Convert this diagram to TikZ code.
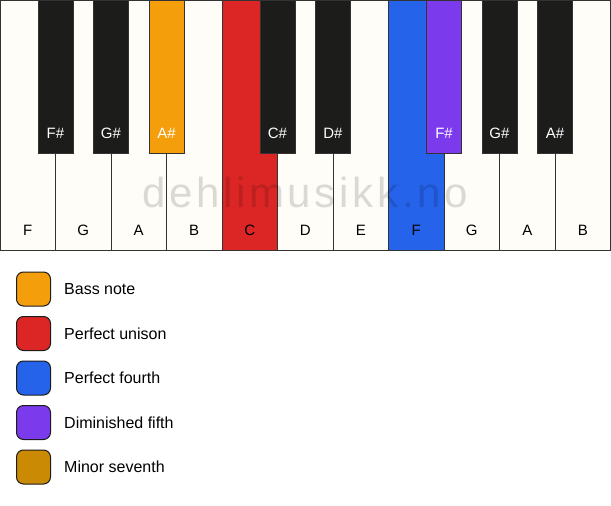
\documentclass[tikz,border=0pt]{standalone}
\usepackage{fontspec}
\setmainfont{Liberation Sans}
\usetikzlibrary{positioning}

\definecolor{ivory}{HTML}{FFFDF8}
\definecolor{ebony}{HTML}{1C1C1A}
\definecolor{keyline}{HTML}{333333}
\definecolor{bassnote}{HTML}{F59E0B}
\definecolor{unison}{HTML}{DC2626}
\definecolor{fourth}{HTML}{2563EB}
\definecolor{dimfifth}{HTML}{7C3AED}
\definecolor{minseventh}{HTML}{CA8A04}

\tikzset{
  whitekey/.style={draw=keyline, line width=1pt, inner sep=0pt, outer sep=0pt,
    minimum width=55.5pt, minimum height=250pt, anchor=north west},
  blackkey/.style={draw=keyline, line width=1pt, inner sep=0pt, outer sep=0pt,
    minimum width=35pt, minimum height=153pt, anchor=north},
  keylabel/.style={inner sep=0pt, text height=11pt, text depth=0pt, font=\fontsize{15}{18}\selectfont},
  legendbox/.style={draw=ebony, line width=1pt, rounded corners=7pt, minimum size=34pt, inner sep=0pt},
  legendtext/.style={inner sep=0pt, anchor=west, font=\fontsize{16}{19}\selectfont},
  watermark/.style={inner sep=0pt, text=black, text opacity=0.14,
    font=\fontsize{42}{48}\selectfont\addfontfeatures{LetterSpace=8.8}}
}

\begin{document}
\begin{tikzpicture}[x=1pt,y=1pt]
\useasboundingbox (0,0) rectangle (611,-506);
\fill[white] (0,0) rectangle (611,-506);

% white keys
\foreach \n/\c [count=\i from 0] in {F/ivory,G/ivory,A/ivory,B/ivory,C/unison,D/ivory,E/ivory,F/fourth,G/ivory,A/ivory,B/ivory}
{
  \node[whitekey, fill=\c] (w\i) at (\i*55.5,0) {};
  \node[keylabel, above=14pt of w\i.south] {\n};
}

% black keys
\foreach \i/\n/\c in {1/F\#/ebony,2/G\#/ebony,3/A\#/bassnote,5/C\#/ebony,6/D\#/ebony,8/F\#/dimfifth,9/G\#/ebony,10/A\#/ebony}
{
  \node[blackkey, fill=\c] (b\i) at (\i*55.5,0) {};
  \node[keylabel, text=white, above=14pt of b\i.south] {\n};
}

\node[watermark] (mark) at (305,-192) {dehlimusikk.no};

% legend
\foreach \t/\c [count=\i from 0] in {Bass note/bassnote,Perfect unison/unison,Perfect fourth/fourth,Diminished fifth/dimfifth,Minor seventh/minseventh}
{
  \node[legendbox, fill=\c] (l\i) at (33.5,-289-44.5*\i) {};
  \node[legendtext, right=13pt of l\i] {\t};
}
\end{tikzpicture}
\end{document}
